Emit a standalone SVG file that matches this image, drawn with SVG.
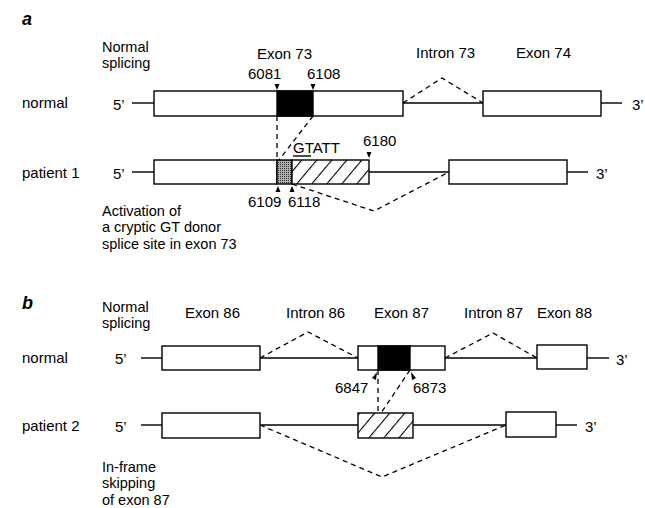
<svg xmlns="http://www.w3.org/2000/svg" width="645" height="508" viewBox="0 0 645 508">
<style>
text{font-family:"Liberation Sans",Arial,Helvetica,sans-serif;font-size:15px;fill:#000}
.ml{font-size:14.5px}
.lbl{font-weight:bold;font-style:italic;font-size:18px}
.box{fill:#fff;stroke:#000;stroke-width:1.4}
.blk{fill:#000;stroke:#000;stroke-width:1.4}
.hat{fill:url(#hatch);stroke:#000;stroke-width:1.4}
.stip{fill:url(#stip);stroke:#000;stroke-width:1.4}
.ln{stroke:#000;stroke-width:1.4;fill:none}
.ds{stroke:#000;stroke-width:1.3;fill:none;stroke-dasharray:5 4}
.ar{fill:#000}
</style>
<defs>
<pattern id="hatch" patternUnits="userSpaceOnUse" width="11.5" height="11.5" patternTransform="rotate(40)">
<rect width="11.5" height="11.5" fill="#fff"/>
<line x1="0" y1="0" x2="0" y2="11.5" stroke="#000" stroke-width="2.2"/>
</pattern>
<pattern id="stip" patternUnits="userSpaceOnUse" width="2" height="2">
<rect width="2" height="2" fill="#b0b0b0"/>
<rect width="1" height="1" fill="#333"/>
</pattern>
</defs>
<rect width="645" height="508" fill="#fff"/>

<g id="panel-a-labels">
<text class="lbl" x="22" y="25">a</text>
<text class="ml" x="102" y="51.5">Normal</text>
<text class="ml" x="102" y="67.8">splicing</text>
<text x="22" y="108">normal</text>
<text x="22" y="178">patient 1</text>
<text class="ml" x="102" y="216">Activation of</text>
<text class="ml" x="102" y="232.3">a cryptic GT donor</text>
<text class="ml" x="102" y="248.6">splice site in exon 73</text>
</g>

<g id="a-normal">
<text x="113" y="110">5’</text>
<text x="632" y="110">3’</text>
<line class="ln" x1="132" y1="103" x2="154" y2="103"/>
<line class="ln" x1="601" y1="103" x2="622" y2="103"/>
</g>
<g id="a-exon73">
<text x="257" y="59">Exon 73</text>
<rect class="box" x="154" y="91" width="249" height="25"/>
<rect class="blk" x="277" y="91" width="36" height="25"/>
<text x="248" y="79">6081</text>
<text x="307" y="79">6108</text>
<polygon class="ar" points="274.5,84 279.5,84 277,90"/>
<polygon class="ar" points="310.5,84 315.5,84 313,90"/>
</g>
<g id="a-intron73">
<text x="416" y="58">Intron 73</text>
<line class="ln" x1="403" y1="103" x2="483" y2="103"/>
</g>
<g id="a-exon74">
<text x="516" y="58">Exon 74</text>
<rect class="box" x="483" y="91" width="118" height="25"/>
</g>

<g id="a-patient1">
<text x="113" y="179">5’</text>
<text x="596" y="179">3’</text>
<line class="ln" x1="132" y1="172" x2="154" y2="172"/>
<rect class="box" x="154" y="160" width="123" height="24"/>
<rect class="stip" x="277" y="160" width="15" height="24"/>
<rect class="hat" x="292" y="160" width="77" height="24"/>
<text x="293" y="153">GTATT</text>
<line class="ln" x1="293" y1="156" x2="311" y2="156"/>
<text x="363" y="146">6180</text>
<polygon class="ar" points="366.5,152 371.5,152 369,158"/>
<polygon class="ar" points="275.5,192 280.5,192 278,186"/>
<polygon class="ar" points="289.5,192 294.5,192 292,186"/>
<text x="248" y="207">6109</text>
<text x="288" y="207">6118</text>
<line class="ln" x1="369" y1="172" x2="449" y2="172"/>
<rect class="box" x="449" y="160" width="118" height="24"/>
<line class="ln" x1="567" y1="172" x2="588" y2="172"/>
</g>

<g id="panel-b-labels">
<text class="lbl" x="22" y="309">b</text>
<text class="ml" x="102" y="311.5">Normal</text>
<text class="ml" x="102" y="327.8">splicing</text>
<text x="22" y="363">normal</text>
<text x="22" y="431">patient 2</text>
<text class="ml" x="102" y="472">In-frame</text>
<text class="ml" x="102" y="488.3">skipping</text>
<text class="ml" x="102" y="504.6">of exon 87</text>
</g>

<g id="b-normal">
<text x="115" y="364">5’</text>
<text x="616" y="365">3’</text>
<line class="ln" x1="141" y1="358" x2="162" y2="358"/>
<line class="ln" x1="587" y1="358" x2="609" y2="358"/>
</g>
<g id="b-exon86">
<text x="185" y="318">Exon 86</text>
<rect class="box" x="162" y="346" width="98" height="24"/>
</g>
<g id="b-intron86">
<text x="286" y="318">Intron 86</text>
<line class="ln" x1="260" y1="358" x2="358" y2="358"/>
</g>
<g id="b-exon87">
<text x="374" y="318">Exon 87</text>
<rect class="box" x="358" y="346" width="87" height="24"/>
<rect class="blk" x="378" y="346" width="32" height="24"/>
<polygon class="ar" points="372,378 376,380 377,372"/>
<polygon class="ar" points="411,372 412,380 416,378"/>
<text x="335" y="393">6847</text>
<text x="413" y="393">6873</text>
</g>
<g id="b-intron87">
<text x="464" y="318">Intron 87</text>
<line class="ln" x1="445" y1="358" x2="537" y2="358"/>
</g>
<g id="b-exon88">
<text x="537" y="318">Exon 88</text>
<rect class="box" x="537" y="345" width="50" height="24"/>
</g>

<g id="b-patient2">
<text x="115" y="432">5’</text>
<text x="585" y="432">3’</text>
<line class="ln" x1="141" y1="425" x2="162" y2="425"/>
<rect class="box" x="162" y="413" width="98" height="25"/>
<line class="ln" x1="260" y1="425" x2="358" y2="425"/>
<rect class="hat" x="358" y="413" width="55" height="25"/>
<line class="ln" x1="413" y1="425" x2="506" y2="425"/>
<rect class="box" x="506" y="412" width="50" height="25"/>
<line class="ln" x1="556" y1="425" x2="577" y2="425"/>
</g>

<g id="connectors">
<polyline class="ds" points="403,103 442,78 483,103"/>
<line class="ds" x1="277" y1="116" x2="277" y2="160"/>
<line class="ds" x1="313" y1="116" x2="279" y2="160"/>
<polyline class="ds" points="292,184 374,211 449,172"/>
<polyline class="ds" points="260,358 308,332 358,358"/>
<polyline class="ds" points="445,358 493,333 537,358"/>
<line class="ds" x1="378" y1="370" x2="378" y2="413"/>
<line class="ds" x1="410" y1="370" x2="381" y2="413"/>
<polyline class="ds" points="260,425 382,477 506,425"/>
</g>
</svg>
